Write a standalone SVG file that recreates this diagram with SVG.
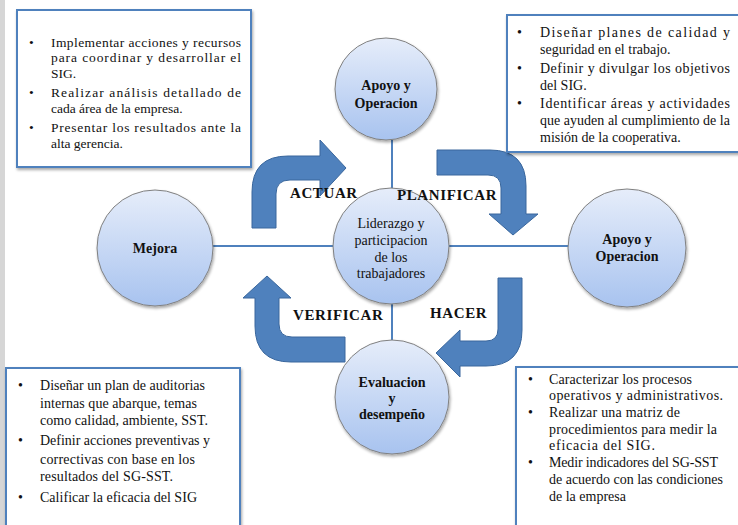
<svg xmlns="http://www.w3.org/2000/svg" width="738" height="525" viewBox="0 0 738 525">
<defs>
<linearGradient id="cg" x1="0" y1="0" x2="0" y2="1">
<stop offset="0" stop-color="#e6edfa"/>
<stop offset="1" stop-color="#a8c3ef"/>
</linearGradient>
<filter id="sh" x="-20%" y="-20%" width="140%" height="140%">
<feGaussianBlur in="SourceAlpha" stdDeviation="1.5"/>
<feOffset dx="1" dy="2" result="b"/>
<feComponentTransfer><feFuncA type="linear" slope="0.35"/></feComponentTransfer>
<feMerge><feMergeNode/><feMergeNode in="SourceGraphic"/></feMerge>
</filter>
</defs>
<style>
.box{fill:#fff;stroke:#4f81bd;stroke-width:2;filter:url(#sh)}
.circ{fill:url(#cg);stroke:#808080;stroke-width:1;filter:url(#sh)}
.arr{fill:#4f81bd;stroke:#3a679d;stroke-width:1}
.con{stroke:#4f81bd;stroke-width:2;fill:none}
.t{font-family:"Liberation Serif","Times New Roman",serif;fill:#111}
.bt{font-size:13.5px}
.bt2{font-size:14px}
.nb{font-size:14px;font-weight:bold;text-anchor:middle}
.nr{font-size:14px;text-anchor:middle}
.lab{font-size:15px;font-weight:bold;letter-spacing:0.6px}
</style>
<rect x="0" y="0" width="5" height="525" fill="#d6d6d6"/>

<g id="connectors">
<line class="con" x1="212" y1="246" x2="569" y2="246"/>
<line class="con" x1="392" y1="140" x2="392" y2="340"/>
</g>

<g id="arrow-actuar">
<path class="arr" d="M252,228 L252,192 Q252,156 288,156 L320,156 L320,140 L346,168 L320,196 L320,180 L290,180 Q276,180 276,194 L276,228 Z"/>
</g>
<g id="arrow-planificar">
<path class="arr" d="M437,150 L490,150 Q526,150 526,186 L526,214 L538,214 L513,235 L489,214 L501,214 L501,188 Q501,175 488,175 L437,175 Z"/>
</g>
<g id="arrow-hacer">
<path class="arr" d="M498,278 L522,278 L522,330 Q522,366 486,366 L460,366 L460,377 L436,353 L460,330 L460,341 L486,341 Q498,341 498,329 Z"/>
</g>
<g id="arrow-verificar">
<path class="arr" d="M345,337 L345,362 L291,362 Q255,362 255,326 L255,298 L243,298 L267,276 L291,298 L279,298 L279,324 Q279,337 292,337 Z"/>
</g>

<g id="node-apoyo-top">
<circle class="circ" cx="386" cy="89" r="51"/>
<text class="t nb" x="386" y="90">Apoyo y</text>
<text class="t nb" x="386" y="108">Operacion</text>
</g>
<g id="node-mejora">
<circle class="circ" cx="155" cy="248" r="58"/>
<text class="t nb" x="155" y="253">Mejora</text>
</g>
<g id="node-apoyo-right">
<circle class="circ" cx="627" cy="248" r="59"/>
<text class="t nb" x="627" y="244">Apoyo y</text>
<text class="t nb" x="627" y="261">Operacion</text>
</g>
<g id="node-center">
<circle class="circ" cx="391" cy="246" r="58"/>
<text class="t nr" x="391" y="228">Liderazgo  y</text>
<text class="t nr" x="391" y="245">participacion</text>
<text class="t nr" x="391" y="262">de los</text>
<text class="t nr" x="391" y="278">trabajadores</text>
</g>
<g id="node-evaluacion">
<circle class="circ" cx="392" cy="397" r="57"/>
<text class="t nb" x="392" y="387">Evaluacion</text>
<text class="t nb" x="392" y="403">y</text>
<text class="t nb" x="392" y="419">desempeño</text>
</g>

<g id="cycle-labels">
<text class="t lab" x="290" y="198">ACTUAR</text>
<text class="t lab" x="397" y="200">PLANIFICAR</text>
<text class="t lab" x="430" y="318">HACER</text>
<text class="t lab" x="293" y="320">VERIFICAR</text>
</g>

<g id="box-top-left">
<rect class="box" x="17" y="10" width="234" height="157"/>
<g class="t bt">
<text x="29" y="46.5">•</text>
<text x="51" y="46.5" textLength="190">Implementar acciones y recursos</text>
<text x="51" y="62" textLength="190">para coordinar y desarrollar el</text>
<text x="51" y="77.5">SIG.</text>
<text x="29" y="97">•</text>
<text x="51" y="97" textLength="190">Realizar análisis detallado de</text>
<text x="51" y="112.5">cada área de la empresa.</text>
<text x="29" y="132">•</text>
<text x="51" y="132" textLength="190">Presentar los resultados ante la</text>
<text x="51" y="147.5">alta gerencia.</text>
</g>
</g>

<g id="box-top-right">
<rect class="box" x="507" y="15" width="240" height="137"/>
<g class="t bt2">
<text x="517" y="37">•</text>
<text x="540" y="37" textLength="190">Diseñar planes de calidad y</text>
<text x="540" y="54">seguridad en el trabajo.</text>
<text x="517" y="73">•</text>
<text x="540" y="73" textLength="190">Definir y divulgar los objetivos</text>
<text x="540" y="90">del SIG.</text>
<text x="517" y="108">•</text>
<text x="540" y="108" textLength="190">Identificar áreas y actividades</text>
<text x="540" y="125" textLength="190">que ayuden al cumplimiento de la</text>
<text x="540" y="142">misión de la cooperativa.</text>
</g>
</g>

<g id="box-bottom-left">
<rect class="box" x="6" y="368" width="234" height="170"/>
<g class="t bt2">
<text x="18" y="390">•</text>
<text x="40" y="390" textLength="165">Diseñar un plan de auditorias</text>
<text x="40" y="408" textLength="157">internas que abarque, temas</text>
<text x="40" y="425" textLength="168">como calidad, ambiente, SST.</text>
<text x="18" y="445">•</text>
<text x="40" y="445" textLength="170">Definir acciones preventivas y</text>
<text x="40" y="464" textLength="155">correctivas con base en los</text>
<text x="40" y="481" textLength="133">resultados del SG-SST.</text>
<text x="18" y="502">•</text>
<text x="40" y="502" textLength="157">Calificar la eficacia del SIG</text>
</g>
</g>

<g id="box-bottom-right">
<rect class="box" x="516" y="367" width="240" height="170"/>
<g class="t bt2">
<text x="528" y="384">•</text>
<text x="549" y="384" textLength="143">Caracterizar los procesos</text>
<text x="549" y="400" textLength="174">operativos y administrativos.</text>
<text x="528" y="417">•</text>
<text x="549" y="417" textLength="131">Realizar una matriz de</text>
<text x="549" y="434" textLength="168">procedimientos para medir la</text>
<text x="549" y="450" textLength="106">eficacia del SIG.</text>
<text x="528" y="467">•</text>
<text x="549" y="467" textLength="169">Medir indicadores del SG-SST</text>
<text x="549" y="484" textLength="174">de acuerdo con las condiciones</text>
<text x="549" y="501">de la empresa</text>
</g>
</g>
</svg>
